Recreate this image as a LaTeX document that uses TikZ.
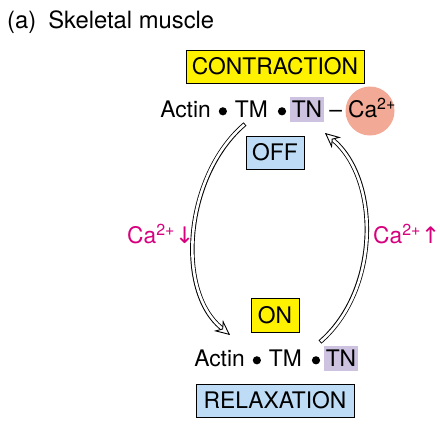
\documentclass[tikz,border=0pt]{standalone}
\usepackage{fontspec}
\setmainfont{TeX Gyre Heros}
\newfontfamily\symfont{DejaVu Sans}
\usetikzlibrary{arrows.meta,calc}
\definecolor{ybox}{RGB}{255,242,0}
\definecolor{bbox}{RGB}{190,220,245}
\definecolor{lav}{RGB}{205,195,225}
\definecolor{salmon}{RGB}{242,170,150}
\definecolor{mag}{RGB}{215,0,125}
\newcommand{\myDblArrow}[4]{%
  \draw[dblout] (#1) .. controls #2 and #3 .. (#4);
  \draw[dblin] (#1) .. controls #2 and #3 .. (#4);
  \draw[tipst] ($(#4)!1pt!#3$) -- (#4);
}
\newcommand{\blt}{\tikz[baseline=-6.2pt]\fill[black] (0pt,0pt) circle (4.1pt);}
\begin{document}
\begin{tikzpicture}[x=1pt,y=-1pt,
  font=\fontsize{22.8}{26}\selectfont,
  box/.style={draw, line width=0.9pt, text height=16pt, text depth=0pt, inner sep=0pt, minimum height=33pt},
  hl/.style={fill=lav, inner xsep=0pt, minimum width=34pt, text height=16pt, text depth=0pt, inner ysep=4.5pt},
  txt/.style={inner sep=0pt},
  lbl/.style={inner sep=0pt, text=mag},
  dblout/.style={line width=4.4pt, black, shorten >=11pt},
  dblin/.style={line width=2.6pt, white, shorten <=0.9pt, shorten >=10.5pt},
  tipst/.style={line width=0.9pt, -{Stealth[length=15pt,width=14pt,inset=5pt,fill=white]}}
]
\useasboundingbox (0,0) rectangle (440,424);

\node[txt, anchor=base west, font=\fontsize{23.8}{27}\selectfont] (title) at (7,28) {(a)\hspace{12pt}Skeletal muscle};

\node[box, fill=ybox, minimum width=178pt] (contr) at (275,66.5) {CONTRACTION};
\node[box, fill=bbox, minimum width=58pt] (off) at (275,152.5) {OFF};
\node[box, fill=ybox, minimum width=48pt, minimum height=34pt] (on) at (275,315) {ON};
\node[box, fill=bbox, minimum width=158pt] (relax) at (275,400.5) {RELAXATION};

\node[circle, fill=salmon, minimum size=49pt, inner sep=0pt] (ca) at (370,111) {};
\node[hl] (tn1) at (307,109.5) {TN};
\node[txt, anchor=base east] (act1) at ([xshift=-3.5pt]tn1.base west) {Actin\hspace{8pt}\blt\hspace{8pt}TM\hspace{10pt}\blt};
\node[txt, anchor=base west] (ca1) at ([xshift=5pt]tn1.base east) {–\hspace{6pt}Ca\textsuperscript{2+}};

\node[hl] (tn2) at (341,358.5) {TN};
\node[txt, anchor=base east] (act2) at ([xshift=-3.5pt]tn2.base west) {Actin\hspace{8pt}\blt\hspace{8pt}TM\hspace{10pt}\blt};

\node[lbl, anchor=base west] (cadown) at (127,243) {Ca\textsuperscript{2+}{\symfont ↓}};
\node[lbl, anchor=base west] (caup) at (373,243) {Ca\textsuperscript{2+}{\symfont ↑}};

\coordinate (l1) at (245,124);
\coordinate (l2) at (230,335);
\coordinate (r1) at (320,342);
\coordinate (r2) at (325,133);

\myDblArrow{l1}{(185,175)}{(175,290)}{l2}
\myDblArrow{r1}{(380,290)}{(380,180)}{r2}
\end{tikzpicture}
\end{document}
